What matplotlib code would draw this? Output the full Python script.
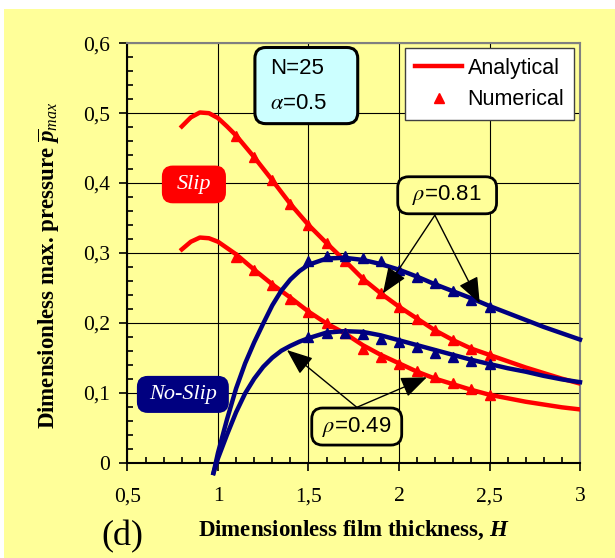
import matplotlib
matplotlib.use('Agg')
import matplotlib.pyplot as plt
from matplotlib.patches import FancyBboxPatch
from matplotlib.lines import Line2D

plt.rcParams['font.family'] = ['Liberation Sans', 'DejaVu Sans']
plt.rcParams['mathtext.fontset'] = 'custom'
plt.rcParams['mathtext.rm'] = 'Liberation Serif'
plt.rcParams['mathtext.it'] = 'Liberation Serif:italic'
plt.rcParams['mathtext.bf'] = 'Liberation Serif:bold'
plt.rcParams['mathtext.bfit'] = 'Liberation Serif:bold:italic'

# ---- data ----
# analytical curves, slip case (red)
x_slip = [0.8, 0.85, 0.9, 0.95, 1.0, 1.05, 1.1, 1.2, 1.3, 1.4, 1.5, 1.6, 1.7, 1.8,
          1.9, 2.0, 2.1, 2.2, 2.3, 2.4, 2.5, 2.6, 2.7, 2.8, 2.9, 3.0]
slip_081 = [0.481, 0.494, 0.501, 0.500, 0.493, 0.481, 0.468, 0.437, 0.404, 0.370,
            0.340, 0.314, 0.289, 0.263, 0.242, 0.223, 0.206, 0.189, 0.175, 0.163,
            0.154, 0.145, 0.136, 0.128, 0.120, 0.113]
slip_049 = [0.305, 0.316, 0.322, 0.321, 0.316, 0.307, 0.298, 0.276, 0.255, 0.236,
            0.216, 0.199, 0.185, 0.168, 0.154, 0.142, 0.130, 0.120, 0.112, 0.104,
            0.097, 0.092, 0.087, 0.083, 0.079, 0.076]

# analytical curves, no-slip case (blue)
x_noslip = [0.975, 1.0, 1.05, 1.1, 1.15, 1.2, 1.25, 1.3, 1.35, 1.4, 1.45, 1.5, 1.6,
            1.7, 1.8, 1.9, 2.0, 2.1, 2.2, 2.3, 2.4, 2.5, 2.6, 2.7, 2.8, 2.9, 3.0]
noslip_081 = [-0.015, 0.014, 0.062, 0.106, 0.142, 0.172, 0.199, 0.225, 0.246, 0.262,
              0.274, 0.283, 0.292, 0.293, 0.290, 0.284, 0.276, 0.266, 0.255, 0.245,
              0.235, 0.224, 0.214, 0.204, 0.194, 0.185, 0.176]
noslip_049 = [-0.015, 0.006, 0.040, 0.072, 0.099, 0.120, 0.137, 0.150, 0.160, 0.167,
              0.173, 0.178, 0.186, 0.188, 0.187, 0.182, 0.175, 0.168, 0.161, 0.154,
              0.147, 0.141, 0.135, 0.130, 0.124, 0.119, 0.115]

# numerical results
xn_slip = [1.1, 1.2, 1.3, 1.4, 1.5, 1.6, 1.7, 1.8, 1.9, 2.0, 2.1, 2.2, 2.3, 2.4, 2.5]
num_slip_081 = [0.468, 0.437, 0.404, 0.370, 0.340, 0.314, 0.289, 0.263, 0.242,
                0.223, 0.206, 0.189, 0.175, 0.163, 0.154]
num_slip_049 = [0.294, 0.275, 0.254, 0.234, 0.215, 0.199, 0.185, 0.163, 0.151,
                0.141, 0.131, 0.123, 0.114, 0.105, 0.097]
xn_noslip = [1.5, 1.6, 1.7, 1.8, 1.9, 2.0, 2.1, 2.2, 2.3, 2.4, 2.5]
num_noslip_081 = [0.289, 0.295, 0.296, 0.293, 0.288, 0.275, 0.266, 0.257, 0.246, 0.233, 0.222]
num_noslip_049 = [0.180, 0.185, 0.185, 0.184, 0.177, 0.173, 0.165, 0.157, 0.151, 0.146, 0.141]

xticks = [0.5, 1.0, 1.5, 2.0, 2.5, 3.0]
xticklabels = ['0,5', '1', '1,5', '2', '2,5', '3']
yticks = [0, 0.1, 0.2, 0.3, 0.4, 0.5, 0.6]
yticklabels = ['0', '0,1', '0,2', '0,3', '0,4', '0,5', '0,6']

YELLOW = '#FFFF99'
RED = '#FF0000'
NAVY = '#000080'

fig = plt.figure(figsize=(6.15, 5.58), dpi=100, facecolor='white')
# yellow chart area (white strip at top and left)
fig.patches.append(plt.Rectangle((4 / 615, 0), 1, 1 - 9 / 558, transform=fig.transFigure,
                                 facecolor=YELLOW, edgecolor='none', zorder=-10))

ax = fig.add_axes([0.2073, 0.1711, 0.7358, 0.7513])
ax.set_facecolor(YELLOW)
ax.set_xlim(0.5, 3.0)
ax.set_ylim(0, 0.6)

ax.grid(True, which='major', color='black', linewidth=0.8)
ax.set_axisbelow(True)

# analytical lines
ax.plot(x_slip, slip_081, color=RED, lw=3.2, zorder=3)
ax.plot(x_slip, slip_049, color=RED, lw=3.2, zorder=3)
ax.plot(x_noslip, noslip_081, color=NAVY, lw=3.2, zorder=3, clip_on=False)
ax.plot(x_noslip, noslip_049, color=NAVY, lw=3.2, zorder=3, clip_on=False)

# numerical markers
ax.plot(xn_slip, num_slip_081, '^', color=RED, ms=6.5, mec=RED, zorder=4)
ax.plot(xn_slip, num_slip_049, '^', color=RED, ms=6.5, mec=RED, zorder=4)
ax.plot(xn_noslip, num_noslip_081, '^', color=NAVY, ms=6.5, mec=NAVY, zorder=4)
ax.plot(xn_noslip, num_noslip_049, '^', color=NAVY, ms=6.5, mec=NAVY, zorder=4)

# axes styling
for s in ['left', 'bottom']:
    ax.spines[s].set_color('black')
    ax.spines[s].set_linewidth(1.5)
for s in ['top', 'right']:
    ax.spines[s].set_color('#808080')
    ax.spines[s].set_linewidth(1.5)

ax.set_xticks(xticks)
ax.set_xticklabels(xticklabels)
ax.set_yticks(yticks)
ax.set_yticklabels(yticklabels)
ax.set_xticks([0.6, 0.7, 0.8, 0.9, 1.1, 1.2, 1.3, 1.4, 1.6, 1.7, 1.8, 1.9,
               2.1, 2.2, 2.3, 2.4, 2.6, 2.7, 2.8, 2.9], minor=True)
ax.set_yticks([0.02 * i for i in range(31) if i % 5 != 0], minor=True)
ax.tick_params(axis='both', which='major', direction='out', length=5.7, width=1.2,
               labelsize=15.5)
ax.tick_params(axis='x', which='major', pad=12)
ax.tick_params(axis='y', which='major', pad=7)
ax.tick_params(axis='both', which='minor', direction='in', length=4, width=1.2)
for lab in ax.get_xticklabels() + ax.get_yticklabels():
    lab.set_family('Liberation Serif')

ax.set_xlabel(r'Dimensionless film thickness, $\mathbfit{H}$', fontsize=16.5,
              fontweight='bold', family='Liberation Serif')
ax.xaxis.set_label_coords(0.5, -0.135)
ax.set_ylabel(r'Dimensionless max. pressure $\overline{\mathbfit{p}}_{\mathit{max}}$',
              fontsize=16.5, fontweight='bold', family='Liberation Serif')
ax.yaxis.set_label_coords(-0.145, 0.47)

fig.text(122 / 615, 1 - 537 / 558, '(d)', fontsize=26, family='Liberation Serif',
         ha='center', va='center')

# legend
handles = [Line2D([], [], color=RED, lw=3.2),
           Line2D([], [], color=RED, marker='^', ls='none', ms=6.5)]
leg = ax.legend(handles, ['Analytical', 'Numerical'], loc='upper right',
                bbox_to_anchor=(0.987, 0.989), borderaxespad=0, fontsize=15.5,
                fancybox=False, framealpha=1, edgecolor='#404040', handlelength=2.2,
                handletextpad=0.25, labelspacing=0.5, borderpad=0.45, numpoints=1)
leg.get_frame().set_linewidth(1.0)
leg.set_zorder(6)

# boxes
asp = (452.5 / 2.5) / (419.2 / 0.6)


def box(x0, y0, x1, y1, fc, lw):
    p = FancyBboxPatch((x0, y0), x1 - x0, y1 - y0,
                       boxstyle='round,pad=0,rounding_size=0.06',
                       mutation_aspect=asp, facecolor=fc, edgecolor='black',
                       linewidth=lw, zorder=5, clip_on=False)
    ax.add_patch(p)


box(1.204, 0.485, 1.772, 0.594, '#CCFFFF', 2.2)
ax.text(1.29, 0.564, 'N=25', fontsize=16, va='center', ha='left', zorder=6)
ax.text(1.29, 0.514, r'$\alpha$=0.5', fontsize=16, va='center', ha='left', zorder=6,
        math_fontfamily='stix')

box(0.690, 0.371, 1.044, 0.425, RED, 0)
ax.text(0.867, 0.398, 'Slip', fontsize=16, color='white', style='italic',
        family='Liberation Serif', ha='center', va='center', zorder=6)

box(0.552, 0.071, 1.060, 0.124, NAVY, 0)
ax.text(0.806, 0.097, 'No-Slip', fontsize=16, color='white', style='italic',
        family='Liberation Serif', ha='center', va='center', zorder=6)

box(1.993, 0.356, 2.539, 0.409, YELLOW, 2.0)
ax.text(2.266, 0.383, r'$\rho$=0.81', fontsize=16, ha='center', va='center', zorder=6,
        math_fontfamily='stix')

box(1.518, 0.025, 2.015, 0.078, YELLOW, 2.0)
ax.text(1.767, 0.051, r'$\rho$=0.49', fontsize=16, ha='center', va='center', zorder=6,
        math_fontfamily='stix')

# arrows
arr = dict(arrowstyle='-|>,head_length=1.0,head_width=0.4', color='black',
           lw=1.0, mutation_scale=16, shrinkA=0, shrinkB=0)
for (xs, ys), (xe, ye) in [((2.198, 0.354), (1.911, 0.242)),
                           ((2.198, 0.354), (2.446, 0.228)),
                           ((1.767, 0.079), (1.381, 0.161)),
                           ((1.767, 0.079), (2.154, 0.122))]:
    ax.annotate('', xy=(xe, ye), xytext=(xs, ys), arrowprops=arr, zorder=5)

fig.savefig('out.png', dpi=100, facecolor=fig.get_facecolor())
